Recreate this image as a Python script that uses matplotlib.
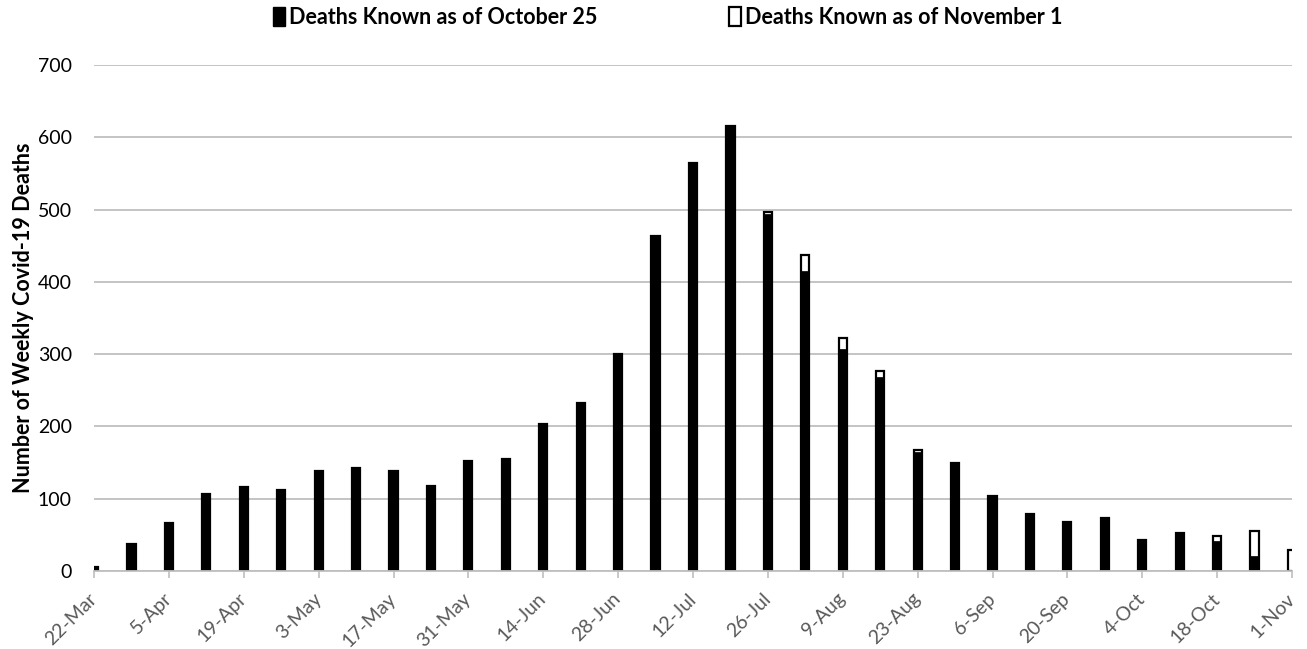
import matplotlib
matplotlib.use("Agg")
import matplotlib.pyplot as plt
from matplotlib.patches import Patch

weeks = ["22-Mar", "29-Mar", "5-Apr", "12-Apr", "19-Apr", "26-Apr", "3-May", "10-May",
         "17-May", "24-May", "31-May", "7-Jun", "14-Jun", "21-Jun", "28-Jun", "5-Jul",
         "12-Jul", "19-Jul", "26-Jul", "2-Aug", "9-Aug", "16-Aug", "23-Aug", "30-Aug",
         "6-Sep", "13-Sep", "20-Sep", "27-Sep", "4-Oct", "11-Oct", "18-Oct", "25-Oct", "1-Nov"]
deaths_oct25 = [6, 38, 67, 106, 116, 112, 138, 143, 138, 117, 152, 155, 203, 233, 300, 464,
                565, 616, 494, 415, 307, 268, 165, 150, 104, 79, 68, 74, 43, 53, 41, 21, 0]
deaths_nov1 = [6, 38, 67, 106, 116, 112, 138, 143, 138, 117, 152, 155, 203, 233, 300, 464,
               565, 616, 497, 437, 323, 276, 168, 150, 104, 79, 68, 74, 43, 53, 49, 56, 29]
y_ticks = [0, 100, 200, 300, 400, 500, 600, 700]
legend_labels = ["Deaths Known as of October 25", "Deaths Known as of November 1"]

plt.rcParams['font.family'] = ['Lato', 'DejaVu Sans']

fig = plt.figure(figsize=(13.07, 6.49), dpi=100)
ax = fig.add_axes([94/1307, 1-571/649, (1292-94)/1307, (571-65)/649])

x = list(range(len(weeks)))
w = 0.22
ax.bar(x, deaths_nov1, width=w, color='white', edgecolor='black', linewidth=1.6, zorder=3)
ax.bar(x, deaths_oct25, width=w, color='black', edgecolor='black', linewidth=0.5, zorder=4)

ax.set_xlim(0, len(weeks)-1)
ax.set_ylim(0, 700)
ax.set_yticks(y_ticks)
ax.set_yticklabels([str(v) for v in y_ticks], fontsize=14, color='#000000')
ax.set_xticks(x[::2])
ax.set_xticklabels(weeks[::2], rotation=45, ha='right', va='center', rotation_mode='anchor',
                   fontsize=14, color='#595959')
ax.tick_params(axis='y', length=0, pad=16)
ax.tick_params(axis='x', length=5, color='#BFBFBF', width=1.2, pad=13)

ax.grid(axis='y', color='#BFBFBF', linewidth=1.3, zorder=0)
ax.set_axisbelow(True)
for s in ['left', 'right', 'top']:
    ax.spines[s].set_visible(False)
ax.spines['bottom'].set_color('#BFBFBF')
ax.spines['bottom'].set_linewidth(1.3)
ax.spines['bottom'].set_zorder(5)

ax.set_ylabel("Number of Weekly Covid-19 Deaths", fontsize=15.5, fontweight='bold')
ax.yaxis.set_label_coords(-0.050, 0.5)

handles = [Patch(facecolor='black', edgecolor='black'),
           Patch(facecolor='white', edgecolor='black', linewidth=1.6)]
leg = fig.legend(handles, legend_labels, loc='center', bbox_to_anchor=(0.511, 0.973),
                 ncol=2, frameon=False, handlelength=0.55, handleheight=0.95,
                 handletextpad=0.2, columnspacing=6.1,
                 prop={'family': 'Lato', 'weight': 'bold', 'size': 15.5})

fig.savefig("out.png", dpi=100)
